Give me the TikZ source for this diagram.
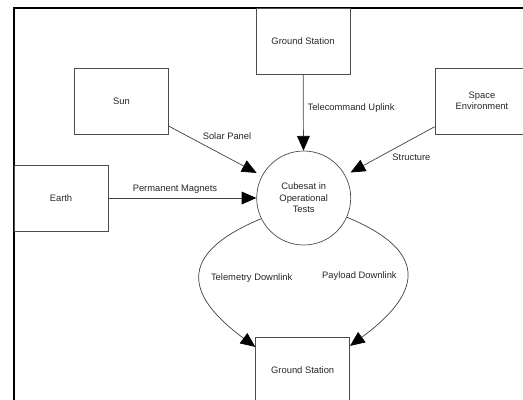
\documentclass[tikz,border=0pt]{standalone}
\usepackage{fontspec}
\setmainfont{Liberation Sans}
\usetikzlibrary{arrows.meta}

\begin{document}
\begin{tikzpicture}[x=0.03cm, y=-0.03cm,
		every node/.style={font=\fontsize{8}{9.8}\selectfont, text=black!85},
		extbox/.style={rectangle, draw=black!70, line width=0.6pt, align=center, minimum width=2.82cm, minimum height=1.98cm},
		procnode/.style={circle, draw=black!70, line width=0.6pt, align=center, minimum size=2.82cm},
		flow/.style={draw=black!75, line width=0.6pt, -{Triangle[length=4.4mm, width=3.8mm, black]}}]
		\useasboundingbox (0,0) rectangle (523,400);
		\clip (0,0) rectangle (523,400);
		\draw [line width=1.7pt] (14,410) -- (14,8) -- (535,8);
		\node (gsup) at (303,41) [extbox] {Ground Station};
		\node (sun) at (121.5,101) [extbox] {Sun};
		\node (space) at (482,101) [extbox] {Space\\Environment};
		\node (earth) at (61,198) [extbox] {Earth};
		\node (cube) at (303.7,198) [procnode] {Cubesat in\\Operational\\Tests};
		\node (gsdown) at (302.7,370) [extbox] {Ground Station};
		\path [flow] (gsup) -- node [pos=0.44, right] {Telecommand Uplink} (cube);
		\path [flow, shorten >=1.8mm] (sun) -- node [pos=0.625, above=4mm] {Solar Panel} (cube);
		\path [flow, shorten >=1.8mm] (space) -- node [pos=0.26, below=3mm] {Structure} (cube);
		\path [flow] (earth) -- node [pos=0.45, above] {Permanent Magnets} (cube);
		\path [flow] (cube.206) .. controls +(-87,36) and +(-68,-50) .. node [right=2mm] {Telemetry Downlink} (gsdown.154);
		\path [flow] (cube.-24) .. controls +(87,36) and +(68,-50) .. node [left=1.7mm] {Payload Downlink} (gsdown.27);
	\end{tikzpicture}
\end{document}
